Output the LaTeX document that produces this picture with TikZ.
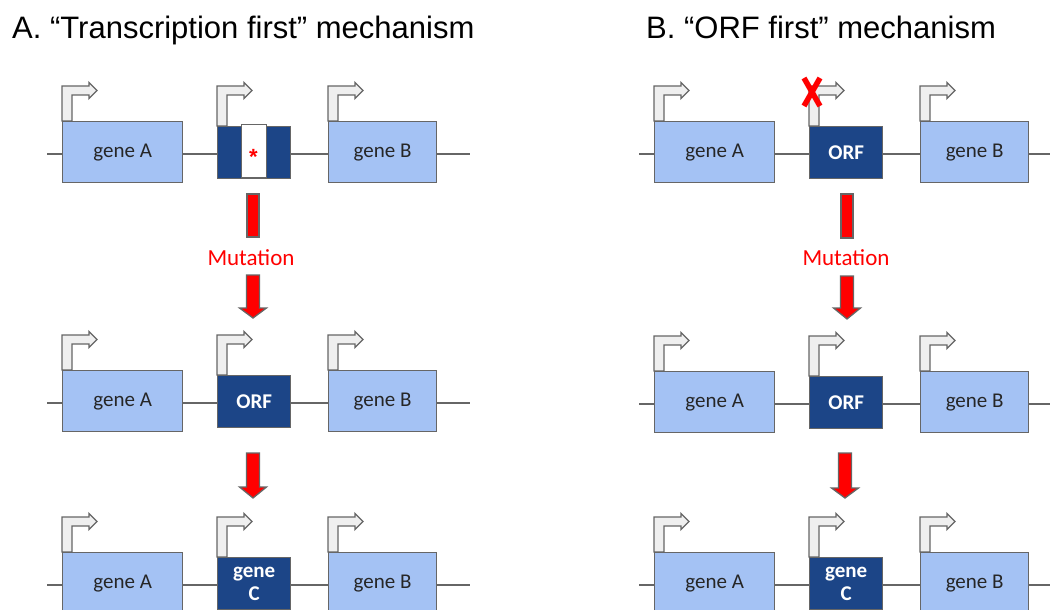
\documentclass[tikz,border=0pt]{standalone}
\usepackage{fontspec}
\setmainfont{Liberation Sans}
\newfontfamily\carl{Carlito}
\definecolor{lightblue}{HTML}{A4C2F4}
\definecolor{darkblue}{HTML}{1C4587}
\definecolor{edge}{HTML}{666666}
\definecolor{promofill}{HTML}{EFEFEF}
\definecolor{labeltext}{HTML}{262626}
\definecolor{mutred}{HTML}{FF0000}
\tikzset{
  backbone/.style={draw=edge, line width=1.3pt},
  gbox/.style={draw=edge, line width=1.3pt, fill=lightblue, minimum height=61, inner sep=0pt,
    anchor=north west, text=labeltext, font=\carl\fontsize{21}{23}\selectfont},
  dbox/.style={draw=edge, line width=1.3pt, fill=darkblue, minimum width=73, minimum height=52, inner sep=0pt,
    anchor=north west, text=white, align=center, font=\carl\bfseries\fontsize{21}{25}\selectfont},
  inset/.style={draw=edge, line width=1.3pt, fill=white, minimum width=25, minimum height=53, inner sep=0pt,
    anchor=north west},
  promo/.style={draw=edge, line width=1.3pt, fill=promofill, line join=miter},
  redshape/.style={draw=edge, line width=1.3pt, fill=mutred},
  crossline/.style={draw=mutred, line width=5.5pt},
  title/.style={anchor=base west, inner sep=0pt, font=\fontsize{31}{34}\selectfont},
  mutlabel/.style={text=mutred, inner sep=0pt, font=\carl\fontsize{23}{25}\selectfont},
}
% promoter: #1 x0, #2 base y, #3 top y
\newcommand\promoter[3]{%
  \draw[promo] (#1,#2) -- (#1,#3) -- (#1+27,#3) -- (#1+27,#3-3.5) -- (#1+35,#3+4.5)
    -- (#1+27,#3+12.5) -- (#1+27,#3+9) -- (#1+10,#3+9) -- (#1+10,#2) -- cycle;}
% one gene row: #1 prefix, #2 top y, #3 middle text
\newcommand\generow[3]{%
  \coordinate (#1L) at (47,#2+33);
  \coordinate (#1R) at (470,#2+33);
  \draw[backbone] (#1L) -- (#1R);
  \promoter{62}{#2}{#2-35}
  \promoter{217}{#2+5}{#2-35}
  \promoter{328}{#2}{#2-35}
  \node[gbox, minimum width=120] (#1a) at (62,#2) {gene A};
  \node[dbox] (#1m) at (217,#2+5) {#3};
  \node[gbox, minimum width=108] (#1b) at (328,#2) {gene B};
}
\newcommand\mutbar[3]{% x, top, bottom
  \draw[redshape] (#1-6,#2) rectangle (#1+6,#3);}
\newcommand\mutarrow[4]{% x, top, head base, tip
  \draw[redshape] (#1-6.5,#2) -- (#1+6.5,#2) -- (#1+6.5,#3) -- (#1+13.5,#3) -- (#1,#4)
    -- (#1-13.5,#3) -- (#1-6.5,#3) -- cycle;}
\newcommand\geneC{\raisebox{-3pt}{\shortstack{gene\\[3pt]C}}}
\begin{document}
\begin{tikzpicture}[x=1pt,y=-1pt]
\useasboundingbox (0,0) rectangle (1050,610);
\clip (0,0) rectangle (1050,610);

\node[title] (titleA) at (12,38.5) {A. “Transcription first” mechanism};
\node[title] (titleB) at (646,38.5) {B. “ORF first” mechanism};

% ---------- Panel A ----------
\generow{a1}{121}{}
\node[inset] (a1ins) at (241,124) {};
\node[text=mutred, inner sep=0pt, font=\bfseries\fontsize{22}{22}\selectfont] (a1star) at (253.5,157) {*};
\mutbar{253}{194}{237}
\node[mutlabel] (a1mut) at (251,258) {Mutation};
\mutarrow{253}{275}{308}{318}
\generow{a2}{370}{ORF}
\mutarrow{253}{453}{487}{498}
\generow{a3}{552}{\geneC}

% ---------- Panel B ----------
\begin{scope}[xshift=592pt]
\generow{b1}{121}{ORF}
\coordinate (xa) at (212,78);
\coordinate (xb) at (228,106);
\coordinate (xc) at (228,78);
\coordinate (xd) at (212,106);
\draw[crossline] (xa) -- (xb);
\draw[crossline] (xc) -- (xd);
\mutbar{255}{194}{238}
\node[mutlabel] (b1mut) at (254,258) {Mutation};
\mutarrow{255}{276}{308}{319}
\generow{b2}{371}{ORF}
\mutarrow{253}{453}{488}{498}
\generow{b3}{552}{\geneC}
\end{scope}
\end{tikzpicture}
\end{document}
